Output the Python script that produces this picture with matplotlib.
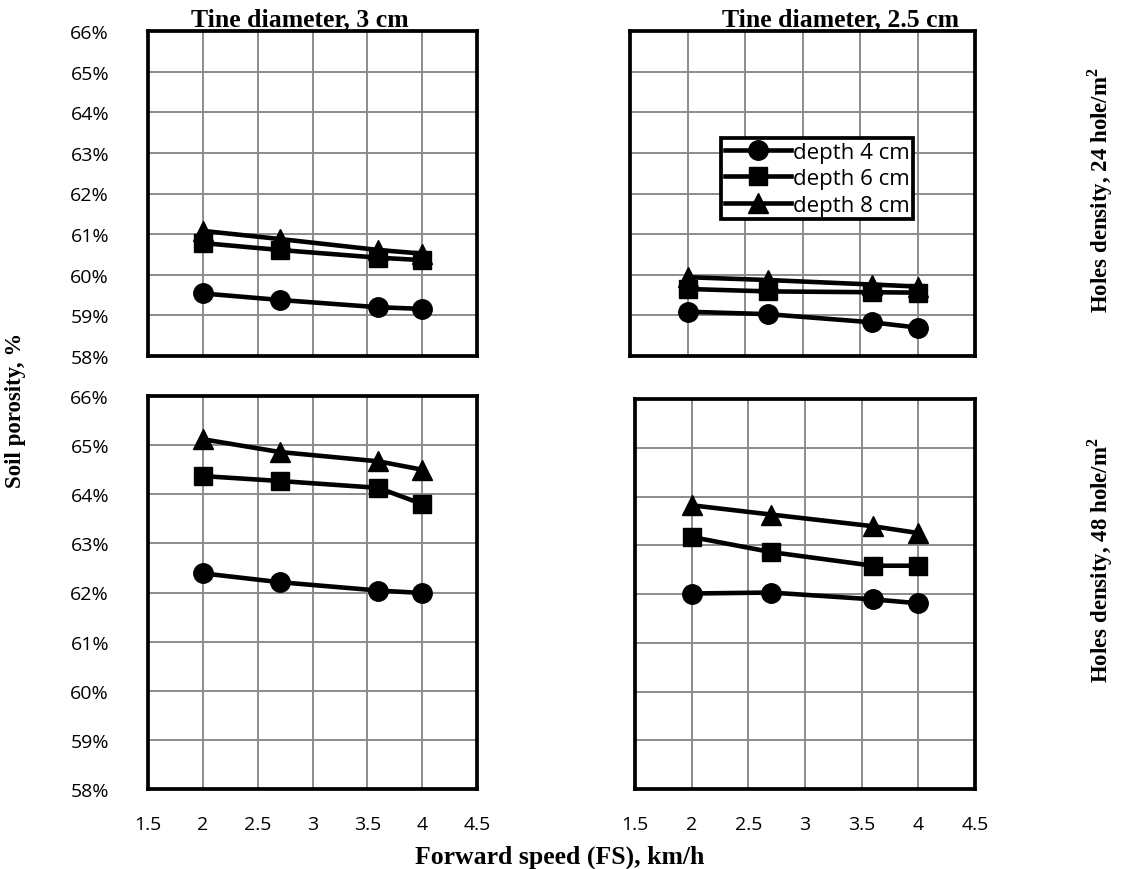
import numpy as np
import matplotlib
matplotlib.use("Agg")
import matplotlib.pyplot as plt
from matplotlib.ticker import FuncFormatter

# forward speed, km/h
speed = [2, 2.7, 3.6, 4]

# soil porosity, %  (tine diameter 3 cm, 24 hole/m2)
tl_d4 = [59.54, 59.38, 59.20, 59.16]
tl_d6 = [60.78, 60.61, 60.42, 60.36]
tl_d8 = [61.08, 60.88, 60.61, 60.52]

# tine diameter 2.5 cm, 24 hole/m2
tr_d4 = [59.09, 59.03, 58.83, 58.70]
tr_d6 = [59.65, 59.59, 59.57, 59.56]
tr_d8 = [59.94, 59.87, 59.76, 59.71]

# tine diameter 3 cm, 48 hole/m2
bl_d4 = [62.39, 62.21, 62.04, 61.99]
bl_d6 = [64.37, 64.27, 64.13, 63.80]
bl_d8 = [65.12, 64.86, 64.67, 64.50]

# tine diameter 2.5 cm, 48 hole/m2
br_d4 = [62.01, 62.03, 61.89, 61.81]
br_d6 = [63.17, 62.86, 62.58, 62.58]
br_d8 = [63.82, 63.63, 63.39, 63.25]

depth_labels = ['depth 4 cm', 'depth 6 cm', 'depth 8 cm']
col_titles = ['Tine diameter, 3 cm', 'Tine diameter, 2.5 cm']
row_titles = ['Holes density, 24 hole/m$^\\mathbf{2}$', 'Holes density, 48 hole/m$^\\mathbf{2}$']

SERIF = 'Liberation Serif'
SANS = 'Open Sans'
plt.rcParams['mathtext.fontset'] = 'custom'
plt.rcParams['mathtext.bf'] = 'Liberation Serif:bold'
plt.rcParams['mathtext.rm'] = 'Liberation Serif'

W, H = 1146, 870
fig = plt.figure(figsize=(W / 100, H / 100), dpi=100)


def box(x0, y0, x1, y1):
    # pixel box -> figure fraction
    return [x0 / W, 1 - y1 / H, (x1 - x0) / W, (y1 - y0) / H]


def panel(rect, series, show_x, show_y):
    ax = fig.add_axes(rect)
    markers = ['o', 's', '^']
    sizes = [14, 13, 14]
    for vals, m, ms, lab in zip(series, markers, sizes, depth_labels):
        ax.plot(speed, vals, color='black', lw=3.3, marker=m, ms=ms,
                label=lab, zorder=3)
    ax.set_xlim(1.5, 4.5)
    ax.set_ylim(58, 66)
    ax.set_xticks(np.arange(1.5, 4.51, 0.5))
    ax.set_yticks(np.arange(58, 66.1, 1))
    ax.grid(True, color='#8c8c8c', lw=1.4)
    ax.set_axisbelow(True)
    for s in ax.spines.values():
        s.set_linewidth(2.7)
        s.set_color('black')
    ax.tick_params(length=0, labelsize=14)
    ax.tick_params(axis='y', pad=28)
    ax.tick_params(axis='x', pad=19)
    ax.yaxis.set_major_formatter(FuncFormatter(lambda v, p: '%d%%' % round(v)))
    ax.xaxis.set_major_formatter(FuncFormatter(lambda v, p: ('%g' % v)))
    for t in ax.get_xticklabels() + ax.get_yticklabels():
        t.set_family(SANS)
    if not show_x:
        ax.tick_params(labelbottom=False)
    if not show_y:
        ax.tick_params(labelleft=False)
    return ax


ax_tl = panel(box(148, 32, 477, 357), [tl_d4, tl_d6, tl_d8], False, True)
ax_tr = panel(box(630, 32, 975, 357), [tr_d4, tr_d6, tr_d8], False, False)
ax_bl = panel(box(148, 397, 477, 790), [bl_d4, bl_d6, bl_d8], True, True)
ax_br = panel(box(635, 400, 975, 790), [br_d4, br_d6, br_d8], True, False)

leg = ax_tr.legend(loc='upper left', bbox_to_anchor=(0.265, 0.67), frameon=True,
                   fancybox=False, edgecolor='black', handlelength=3.0,
                   handletextpad=0.05, borderpad=0.15, labelspacing=0.25,
                   borderaxespad=0, prop={'family': SANS, 'size': 16})
leg.get_frame().set_linewidth(2.7)
leg.get_frame().set_alpha(1)

tfont = dict(family=SERIF, weight='bold', size=18.5)
vfont = dict(family=SERIF, weight='bold', size=16.5)
fig.text(300 / W, 1 - 20 / H, col_titles[0], ha='center', va='center', **tfont)
fig.text(840 / W, 1 - 20 / H, col_titles[1], ha='center', va='center', **tfont)
fig.text(1100 / W, 1 - 190 / H, row_titles[0], ha='center', va='center',
         rotation=90, **vfont)
fig.text(1100 / W, 1 - 560 / H, row_titles[1], ha='center', va='center',
         rotation=90, **vfont)
fig.text(16 / W, 1 - 410 / H, 'Soil porosity, %', ha='center', va='center',
         rotation=90, **vfont)
fig.text(560 / W, 1 - 857 / H, 'Forward speed (FS), km/h', ha='center',
         va='center', **tfont)

plt.savefig('out.png', dpi=100)
